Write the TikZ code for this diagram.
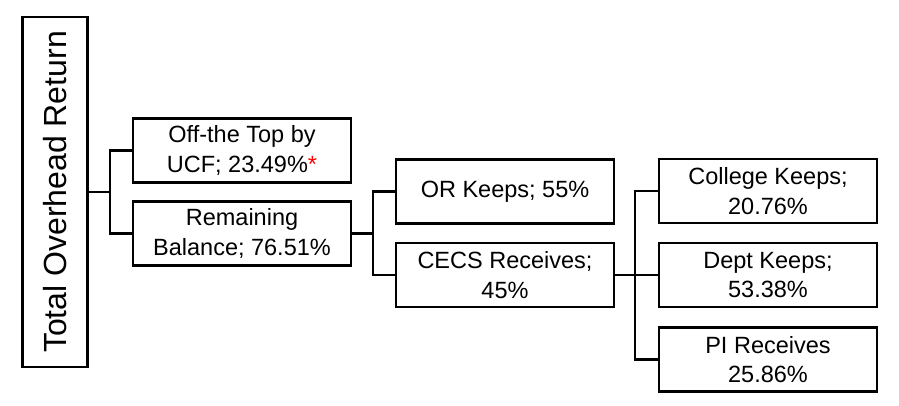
\documentclass[tikz,border=0pt]{standalone}
\usepackage{fontspec}
\setmainfont{Liberation Sans}
\begin{document}
\begin{tikzpicture}[x=1pt,y=-1pt,
  box/.style={draw,line width=2.6pt,minimum width=218pt,minimum height=64pt,
    align=center,inner sep=0pt,font=\fontsize{23.5}{29.5}\selectfont},
  link/.style={line width=2.6pt,line cap=rect}]
\useasboundingbox (0,0) rectangle (899,406);

%%%% level 0
%%%%
\node[box,minimum width=65pt,minimum height=350pt,
  font=\fontsize{32}{36}\selectfont] (root) at (55,192) {\rotatebox{90}{Total Overhead Return}};

%%%% level 1
%%%%
\node[box] (top) at (242,150.5) {Off-the Top by\\UCF; 23.49\%\textcolor{red}{*}};
\node[box] (rem) at (242,233.5) {Remaining\\Balance; 76.51\%};
\coordinate (j1) at (110,192);

%%%% level 2
%%%%
\node[box] (orkeep) at (505,191.5) {OR Keeps; 55\%};
\node[box] (cecs) at (505,275) {CECS Receives;\\45\%};
\coordinate (j2) at (373,233.5);

%%%% level 3
%%%%
\node[box] (college) at (768,191) {College Keeps;\\20.76\%};
\node[box] (dept) at (768,275) {Dept Keeps;\\53.38\%};
\node[box] (pi) at (768,359.5) {PI Receives\\25.86\%};
\coordinate (j3) at (635,275);

\foreach \u \v in{
root/j1,rem/j2,cecs/j3%
}{
\draw[link] (\u.east) -- (\v);
}

\foreach \u \v in{
top/j1,rem/j1,orkeep/j2,cecs/j2,college/j3,dept/j3,pi/j3%
}{
\draw[link] (\u.west) -| (\v);
}

\end{tikzpicture}
\end{document}
